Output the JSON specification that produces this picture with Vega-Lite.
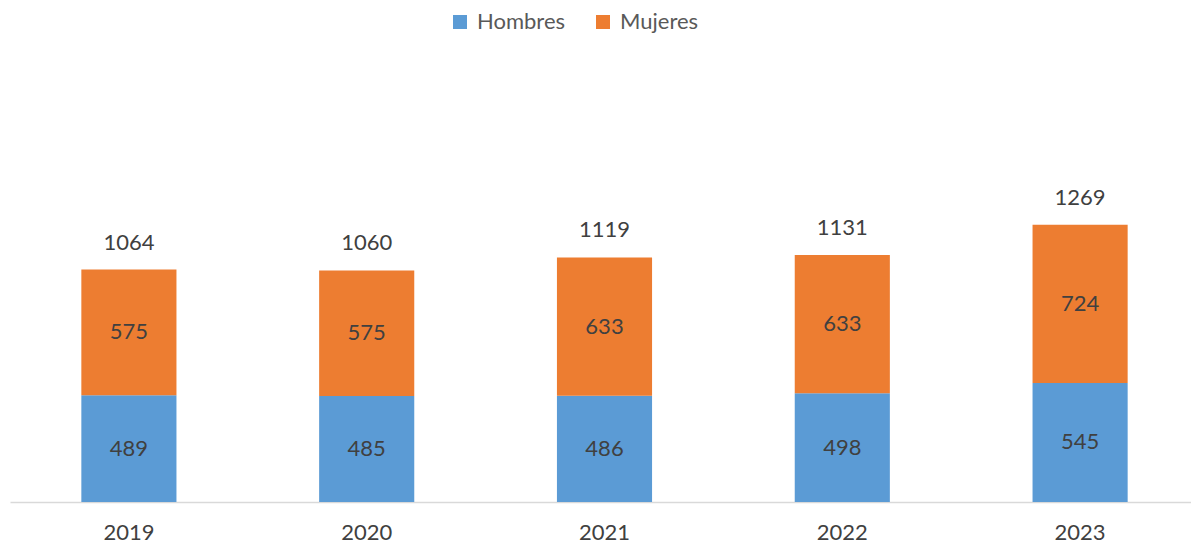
{
  "$schema": "https://vega.github.io/schema/vega-lite/v6.json",
  "width": 1181,
  "height": 437,
  "autosize": {"type": "none"},
  "padding": {"left": 10, "top": 65, "right": 0, "bottom": 45},
  "background": "white",
  "config": {
    "view": {"stroke": null},
    "font": "Lato",
    "text": {"font": "Lato"}
  },
  "data": {
    "values": [
      {"year": "2019", "sexo": "Hombres", "valor": 489},
      {"year": "2019", "sexo": "Mujeres", "valor": 575},
      {"year": "2020", "sexo": "Hombres", "valor": 485},
      {"year": "2020", "sexo": "Mujeres", "valor": 575},
      {"year": "2021", "sexo": "Hombres", "valor": 486},
      {"year": "2021", "sexo": "Mujeres", "valor": 633},
      {"year": "2022", "sexo": "Hombres", "valor": 498},
      {"year": "2022", "sexo": "Mujeres", "valor": 633},
      {"year": "2023", "sexo": "Hombres", "valor": 545},
      {"year": "2023", "sexo": "Mujeres", "valor": 724}
    ]
  },
  "encoding": {
    "x": {
      "field": "year",
      "type": "nominal",
      "scale": {"range": [0, 1189], "paddingInner": 0.6, "paddingOuter": 0.3},
      "axis": {
        "title": null,
        "labelAngle": 0,
        "labelFont": "Lato",
        "labelFontSize": 22,
        "labelColor": "#404040",
        "labelPadding": 20,
        "ticks": false,
        "domainColor": "#d9d9d9",
        "domainWidth": 1.5,
        "grid": false
      }
    }
  },
  "layer": [
    {
      "mark": {"type": "bar"},
      "encoding": {
        "y": {
          "field": "valor",
          "type": "quantitative",
          "stack": "zero",
          "scale": {"domain": [0, 2000]},
          "axis": null
        },
        "order": {"field": "sexo", "sort": "ascending"},
        "color": {
          "field": "sexo",
          "type": "nominal",
          "scale": {"domain": ["Hombres", "Mujeres"], "range": ["#5B9BD5", "#ED7D31"]},
          "legend": {
            "title": null,
            "orient": "none",
            "direction": "horizontal",
            "legendX": 439,
            "legendY": -54,
            "symbolType": "square",
            "symbolSize": 196,
            "symbolStrokeWidth": 0,
            "symbolOpacity": 1,
            "labelFont": "Lato",
            "labelFontSize": 22,
            "labelColor": "#595959",
            "labelOffset": 6,
            "columnPadding": 26
          }
        }
      }
    },
    {
      "transform": [
        {"stack": "valor", "groupby": ["year"], "sort": [{"field": "sexo", "order": "ascending"}], "as": ["y0", "y1"]},
        {"fold": ["y0", "y1"], "as": ["k", "pos"]},
        {"aggregate": [{"op": "mean", "field": "pos", "as": "mid"}], "groupby": ["year", "sexo", "valor"]}
      ],
      "mark": {"type": "text", "fontSize": 22, "color": "#404040", "baseline": "middle", "font": "Lato"},
      "encoding": {
        "y": {"field": "mid", "type": "quantitative", "scale": {"domain": [0, 2000]}, "axis": null},
        "text": {"field": "valor", "type": "quantitative"}
      }
    },
    {
      "transform": [
        {"aggregate": [{"op": "sum", "field": "valor", "as": "total"}], "groupby": ["year"]}
      ],
      "mark": {"type": "text", "fontSize": 22, "color": "#404040", "baseline": "middle", "dy": -27, "font": "Lato"},
      "encoding": {
        "y": {"field": "total", "type": "quantitative", "scale": {"domain": [0, 2000]}, "axis": null},
        "text": {"field": "total", "type": "quantitative"}
      }
    }
  ]
}
